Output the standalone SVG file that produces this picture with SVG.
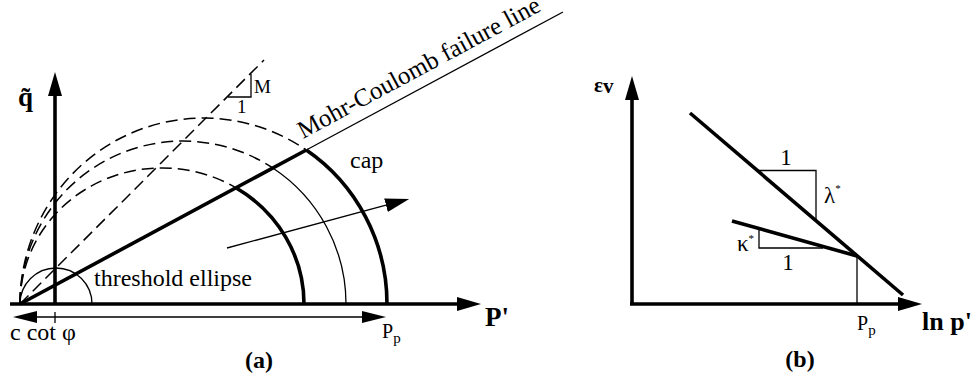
<svg xmlns="http://www.w3.org/2000/svg" width="977" height="381" viewBox="0 0 977 381">
<style>
.thick{fill:none;stroke:#000;stroke-width:3.6}
.thin{fill:none;stroke:#000;stroke-width:1.3}
.dash{fill:none;stroke:#000;stroke-width:1.5;stroke-dasharray:12 6}
text{font-family:'Liberation Serif',serif;fill:#000}
.b{font-weight:bold}
</style>
<defs>
<marker id="ah" viewBox="0 0 24 14" markerWidth="24" markerHeight="14" markerUnits="userSpaceOnUse" refX="0" refY="7" orient="auto-start-reverse">
<path d="M0,0 L24,7 L0,14 z" fill="#000"/>
</marker>
<marker id="ahs" viewBox="0 0 24 12" markerWidth="24" markerHeight="12" markerUnits="userSpaceOnUse" refX="0" refY="6" orient="auto-start-reverse">
<path d="M0,0 L24,6 L0,12 z" fill="#000"/>
</marker>
</defs>
<rect width="977" height="381" fill="#fff"/>
<g id="panel-a">
<g id="connectors-a">
<line class="thick" x1="10" y1="304" x2="457" y2="304" marker-end="url(#ah)"/>
<line class="thick" x1="55" y1="304" x2="55" y2="96" marker-end="url(#ah)"/>
<line class="thin" x1="37" y1="317" x2="362" y2="317" marker-start="url(#ahs)" marker-end="url(#ahs)"/>
<line class="thin" x1="55" y1="312" x2="55" y2="323"/>
<line class="thin" x1="227" y1="248" x2="386" y2="205.2" marker-end="url(#ah)"/>
</g>
<g id="yield-surfaces">
<path class="dash" d="M20 304 A183.5 186 0 0 1 306.3 150"/>
<path class="thick" d="M306.3 150 A183.5 186 0 0 1 387 304"/>
<path class="dash" d="M20 304 A163 163 0 0 1 272.8 168"/>
<path class="thin" d="M272.8 168 A163 163 0 0 1 346 304"/>
<path class="dash" d="M20 304 A142 136 0 0 1 235.9 187.8"/>
<path class="thick" d="M235.9 187.8 A142 136 0 0 1 304 304"/>
<path class="thin" d="M20 304 A36 36 0 0 1 92 304"/>
</g>
<g id="failure-lines">
<line class="thick" x1="20" y1="304" x2="306.3" y2="150"/>
<line class="thin" x1="306.3" y1="150" x2="563" y2="12"/>
<line class="dash" x1="20" y1="304" x2="264" y2="60"/>
<polyline class="thin" points="228,97 251,97 251,74"/>
</g>
<g id="labels-a" font-family="Liberation Serif, serif">
<text class="b" x="18" y="106" font-size="27">q̃</text>
<text class="b" x="485" y="326" font-size="27">P'</text>
<text x="254" y="93" font-size="19">M</text>
<text x="237" y="113" font-size="19">1</text>
<text transform="translate(303,139) rotate(-28.3)" font-size="25">Mohr-Coulomb failure line</text>
<text x="350" y="168" font-size="24">cap</text>
<text x="94" y="286" font-size="24">threshold ellipse</text>
<text x="10" y="340" font-size="24">c cot φ</text>
<text x="382" y="338" font-size="20">P<tspan font-size="15" dy="5">p</tspan></text>
<text class="b" x="259" y="368" font-size="24" text-anchor="middle">(a)</text>
</g>
</g>
<g id="panel-b">
<g id="connectors-b">
<line class="thick" x1="632" y1="304" x2="632" y2="100" marker-end="url(#ah)"/>
<line class="thick" x1="630" y1="304" x2="898" y2="304" marker-end="url(#ah)"/>
</g>
<g id="lines-b">
<line class="thick" x1="690" y1="113" x2="903" y2="295"/>
<polyline class="thin" points="758,170.5 816,170.5 816,220.5"/>
<line class="thick" x1="732" y1="221" x2="857" y2="256"/>
<polyline class="thin" points="759,229 759,248 823,248"/>
<line class="thin" x1="857" y1="256" x2="857" y2="304"/>
</g>
<g id="labels-b" font-family="Liberation Serif, serif">
<text class="b" x="594" y="92" font-size="21">ε<tspan dy="1">v</tspan></text>
<text x="786" y="165" font-size="23" text-anchor="middle">1</text>
<text x="824" y="203" font-size="23">λ<tspan font-size="11" dy="-11">*</tspan></text>
<text x="737" y="251" font-size="23">κ<tspan font-size="11" dy="-9">*</tspan></text>
<text x="788" y="270" font-size="23" text-anchor="middle">1</text>
<text x="857" y="330" font-size="20">P<tspan font-size="15" dy="5">p</tspan></text>
<text class="b" x="922" y="330" font-size="26">ln p'</text>
<text class="b" x="800" y="367" font-size="24" text-anchor="middle">(b)</text>
</g>
</g>
</svg>
